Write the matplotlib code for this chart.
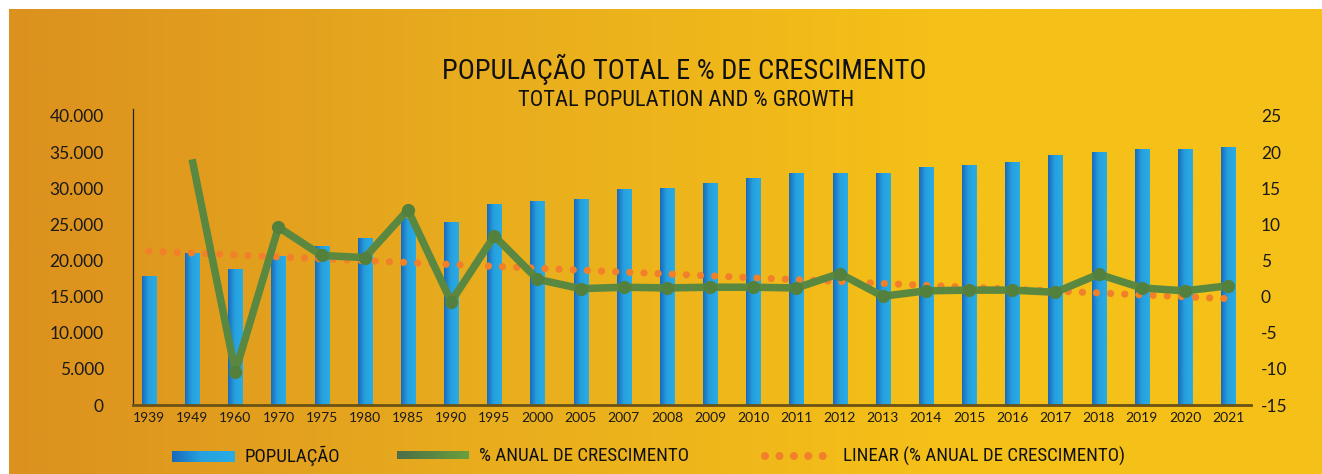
import numpy as np
import matplotlib
matplotlib.use("Agg")
import matplotlib.pyplot as plt
from matplotlib import font_manager
from matplotlib.colors import LinearSegmentedColormap
from matplotlib.ticker import FuncFormatter, MultipleLocator

plt.rcParams["axes.unicode_minus"] = False

# ---------------- data ----------------
years = ["1939", "1949", "1960", "1970", "1975", "1980", "1985", "1990", "1995",
         "2000", "2005", "2007", "2008", "2009", "2010", "2011", "2012", "2013",
         "2014", "2015", "2016", "2017", "2018", "2019", "2020", "2021"]
population = [17800, 21000, 18800, 20600, 21900, 23000, 25800, 25300, 27700,
              28200, 28500, 29800, 30000, 30600, 31400, 32000, 32000, 32000,
              32900, 33200, 33500, 34500, 34900, 35300, 35400, 35700]
growth = [np.nan, 19.0, -10.4, 9.6, 5.7, 5.4, 12.0, -0.7, 8.4,
          2.4, 1.1, 1.3, 1.2, 1.3, 1.3, 1.2, 3.2, 0.05,
          0.8, 0.9, 0.9, 0.6, 3.1, 1.2, 0.8, 1.5]

title = "POPULAÇÃO TOTAL E % DE CRESCIMENTO"
subtitle = "TOTAL POPULATION AND % GROWTH"
legend_labels = ["POPULAÇÃO", "% ANUAL DE CRESCIMENTO",
                 "LINEAR (% ANUAL DE CRESCIMENTO)"]

# pick an installed condensed font
installed = {f.name for f in font_manager.fontManager.ttflist}
narrow_name = None
for cand in ["Liberation Sans Narrow", "Roboto Condensed", "Open Sans Condensed",
             "DejaVu Sans Condensed", "Noto Sans Condensed", "Arial Narrow"]:
    if cand in installed:
        narrow_name = cand
        break
if narrow_name is None:
    for n in sorted(installed):
        if "Narrow" in n or "Condensed" in n:
            narrow_name = n
            break
cond_stretch = "normal"
if narrow_name is None:
    narrow_name = "DejaVu Sans"
    cond_stretch = "condensed"
NARROW = [narrow_name, "DejaVu Sans"]
TICKF = ["Lato", "DejaVu Sans"]

W, H = 1322, 474
fig = plt.figure(figsize=(W / 100, H / 100), dpi=100)
fig.patch.set_facecolor("white")

# background axes in pixel coordinates
bg = fig.add_axes([0, 0, 1, 1], zorder=0)
bg.set_xlim(0, W)
bg.set_ylim(H, 0)
bg.axis("off")
bg_cmap = LinearSegmentedColormap.from_list(
    "bg", [(0.0, (220/255, 145/255, 30/255)),
           (0.35, (232/255, 172/255, 30/255)),
           (0.7, (245/255, 192/255, 24/255)),
           (1.0, (245/255, 193/255, 24/255))])
grad = np.linspace(0, 1, 512).reshape(1, -1)
bg.imshow(grad, cmap=bg_cmap, extent=[9, W, H, 9], aspect="auto",
          interpolation="bilinear")

# main axes
x0, x1, yb, yt = 133, 1251, 405, 116
ax = fig.add_axes([x0 / W, (H - yb) / H, (x1 - x0) / W, (yb - yt) / H], zorder=2)
ax.set_facecolor("none")

bar_cmap = LinearSegmentedColormap.from_list(
    "bar", [(0.0, (24/255, 105/255, 188/255)),
            (0.45, (38/255, 160/255, 222/255)),
            (1.0, (42/255, 172/255, 228/255))])
xs = np.arange(len(years))
bw = 0.33
for xi, v in zip(xs, population):
    ax.imshow(grad, cmap=bar_cmap, extent=[xi - bw / 2, xi + bw / 2, 0, v],
              aspect="auto", interpolation="bilinear", zorder=2)

ax.set_xlim(-0.37, 25.53)
ax.set_ylim(0, 40000)
ax.yaxis.set_major_locator(MultipleLocator(5000))
ax.yaxis.set_major_formatter(FuncFormatter(
    lambda v, p: "0" if v == 0 else f"{int(v):,}".replace(",", ".")))
ax.set_xticks(xs)
ax.set_xticklabels(years)
ax.tick_params(axis="x", length=0, pad=5, labelsize=10)
ax.tick_params(axis="y", length=0, pad=21, labelsize=12.5)
for lab in ax.get_xticklabels() + ax.get_yticklabels():
    lab.set_family(TICKF)
    lab.set_color("#1a1a1a")
for s in ["top", "right"]:
    ax.spines[s].set_visible(False)
ax.spines["left"].set_color("#222222")
ax.spines["left"].set_linewidth(0.9)
ax.spines["left"].set_bounds(0, 41000)
ax.spines["bottom"].set_color("#6b5215")
ax.spines["bottom"].set_linewidth(2)

# secondary axis
ax2 = ax.twinx()
ax2.set_ylim(-15, 25)
ax2.yaxis.set_major_locator(MultipleLocator(5))
ax2.tick_params(axis="y", length=0, pad=7, labelsize=12.5)
for lab in ax2.get_yticklabels():
    lab.set_family(TICKF)
    lab.set_color("#1a1a1a")
for s in ax2.spines.values():
    s.set_visible(False)

# trend line (linear fit of growth series)
g = np.array(growth, dtype=float)
m = ~np.isnan(g)
coef = np.polyfit(xs[m], g[m], 1)
trend = np.polyval(coef, xs)
ax2.plot(xs, trend, color="#f2802a", linewidth=5.2, linestyle=(0, (0.01, 1.95)),
         dash_capstyle="round", zorder=3)

ax2.plot(xs, g, color="#5a8840", linewidth=5.4, solid_capstyle="butt",
         solid_joinstyle="round", zorder=4)
mk = [i for i in range(len(g)) if m[i] and i > 1]
ax2.plot(xs, g, linestyle="none", marker="o", markersize=8.5, markevery=mk,
         markerfacecolor="#53803d", markeredgecolor="#53803d", zorder=5)

# titles
bg.text(684, 69, title, ha="center", va="center", fontsize=20.5,
        family=NARROW, stretch=cond_stretch, color="#111111")
bg.text(686, 100, subtitle, ha="center", va="center", fontsize=16.2,
        family=NARROW, stretch=cond_stretch, color="#111111")

# legend (manual, pixel coordinates)
leg_y = 456
LFS = 13.6
bg.imshow(grad, cmap=bar_cmap, extent=[172, 235, 462, 451], aspect="auto",
          interpolation="bilinear")
bg.text(244, leg_y, legend_labels[0], ha="left", va="center", fontsize=LFS,
        family=NARROW, stretch=cond_stretch, color="#111111")
green_cmap = LinearSegmentedColormap.from_list(
    "gr", [(75/255, 110/255, 72/255), (106/255, 160/255, 60/255)])
bg.imshow(grad, cmap=green_cmap, extent=[397, 469, 459, 451], aspect="auto",
          interpolation="bilinear")
bg.text(479, leg_y, legend_labels[1], ha="left", va="center", fontsize=LFS,
        family=NARROW, stretch=cond_stretch, color="#111111")
bg.plot([765, 837], [leg_y, leg_y], color="#f2802a", linewidth=5.8,
        linestyle=(0, (0.01, 1.78)), dash_capstyle="round")
bg.text(843, leg_y, legend_labels[2], ha="left", va="center", fontsize=LFS,
        family=NARROW, stretch=cond_stretch, color="#111111")

fig.savefig("out.png", dpi=100)
